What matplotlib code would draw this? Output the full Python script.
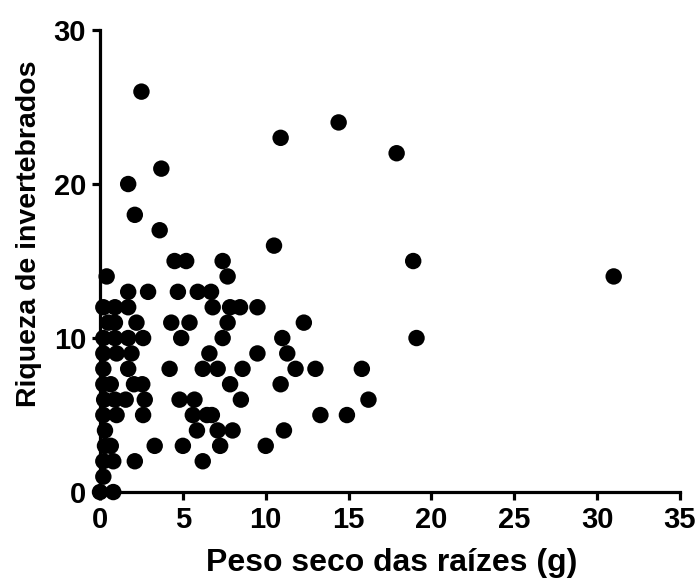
import matplotlib
matplotlib.use('Agg')
import matplotlib.pyplot as plt

plt.rcParams['font.family'] = ['Liberation Sans', 'DejaVu Sans']
plt.rcParams['font.weight'] = 'bold'

# root dry weight (g) and invertebrate richness, read row by row
peso = [2.5, 14.4, 10.9, 17.9, 3.7, 1.7, 2.1, 3.6, 10.5,
        4.5, 5.2, 7.4, 18.9,
        0.4, 7.7, 31.0,
        1.7, 2.9, 4.7, 5.9, 6.7,
        0.2, 0.9, 1.7, 6.8, 7.85, 8.45, 9.5,
        0.5, 0.9, 2.2, 4.3, 5.4, 7.7, 12.3,
        0.2, 0.9, 1.7, 2.6, 4.9, 7.4, 11.0, 19.1,
        0.2, 1.0, 1.9, 6.6, 9.5, 11.3,
        0.2, 1.7, 4.2, 6.2, 7.1, 8.6, 11.8, 13.0, 15.8,
        0.2, 0.65, 2.05, 2.55, 7.85, 10.9,
        0.25, 0.9, 1.55, 2.7, 4.8, 5.7, 8.5, 16.2,
        0.2, 1.0, 2.6, 5.6, 6.45, 6.75, 13.3, 14.9,
        0.3, 5.85, 7.1, 8.0, 11.1,
        0.3, 0.65, 3.3, 5.0, 7.25, 10.0,
        0.2, 0.8, 2.1, 6.2,
        0.2,
        0.0, 0.8]
riqueza = [26, 24, 23, 22, 21, 20, 18, 17, 16,
           15, 15, 15, 15,
           14, 14, 14,
           13, 13, 13, 13, 13,
           12, 12, 12, 12, 12, 12, 12,
           11, 11, 11, 11, 11, 11, 11,
           10, 10, 10, 10, 10, 10, 10, 10,
           9, 9, 9, 9, 9, 9,
           8, 8, 8, 8, 8, 8, 8, 8, 8,
           7, 7, 7, 7, 7, 7,
           6, 6, 6, 6, 6, 6, 6, 6,
           5, 5, 5, 5, 5, 5, 5, 5,
           4, 4, 4, 4, 4,
           3, 3, 3, 3, 3, 3,
           2, 2, 2, 2,
           1,
           0, 0]

xticks = [0, 5, 10, 15, 20, 25, 30, 35]
yticks = [0, 10, 20, 30]

fig = plt.figure(figsize=(6.96, 5.83), dpi=100)
ax = fig.add_axes([0.1437, 0.156, 0.977 - 0.1437, 0.9485 - 0.156])

ax.scatter(peso, riqueza, s=140, color='black', edgecolors='none', clip_on=False, zorder=3)

ax.set_xlim(0, 35)
ax.set_ylim(0, 30)
ax.set_xticks(xticks)
ax.set_yticks(yticks)
ax.spines['top'].set_visible(False)
ax.spines['right'].set_visible(False)
for s in ['left', 'bottom']:
    ax.spines[s].set_linewidth(2.3)
ax.tick_params(width=2.3, length=6, labelsize=21, pad=4)
for lab in ax.get_xticklabels() + ax.get_yticklabels():
    lab.set_fontweight('bold')

ax.set_xlabel('Peso seco das raízes (g)', fontsize=23, fontweight='bold')
ax.set_ylabel('Riqueza de invertebrados', fontsize=20.5, fontweight='bold')
ax.xaxis.set_label_coords(0.503, -0.122)
ax.yaxis.set_label_coords(-0.1, 0.56)

plt.savefig('out.png', dpi=100)
